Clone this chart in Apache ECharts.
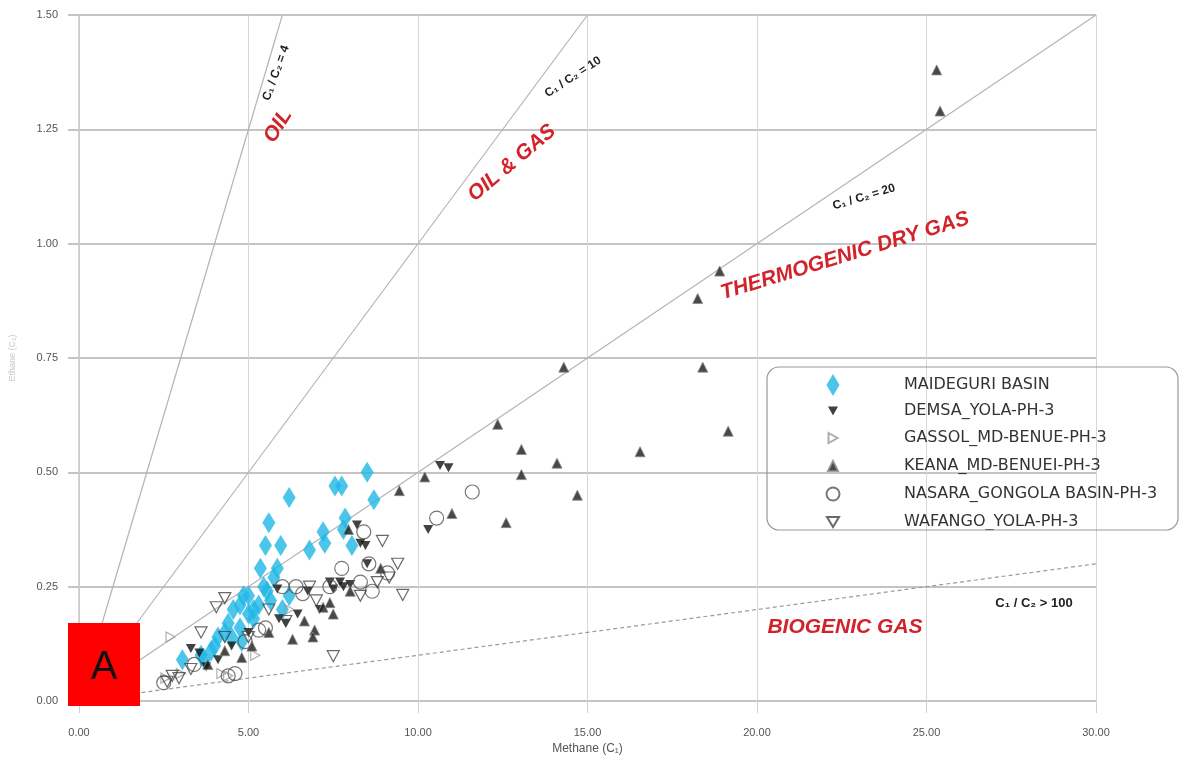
<!DOCTYPE html>
<html>
<head>
<meta charset="utf-8">
<title>Methane vs Ethane</title>
<script src="https://cdn.jsdelivr.net/npm/echarts@6/dist/echarts.min.js"></script>
<style>
	html, body { margin: 0; padding: 0; background: #fff; }
	#chart { width: 1181px; height: 760px; }
</style>
</head>
<body>
<div id="chart"></div>
<script type="text/javascript">
	// axis ticks
	var xTicks = [0, 5, 10, 15, 20, 25, 30];
	var yTicks = [0, 0.25, 0.5, 0.75, 1.0, 1.25, 1.5];

	// ratio reference lines (C1 / C2), end points
	var lineC4 = [[0, 0], [6, 1.5]];
	var lineC10 = [[0, 0], [15, 1.5]];
	var lineC20 = [[0, 0], [30, 1.5]];
	var lineC100 = [[0, 0], [30, 0.3]];

	// samples [methane, ethane]
	var maideguri = [
		[3.05,0.09],[3.6,0.1],[3.7,0.09],[3.9,0.11],[4.0,0.12],[4.1,0.14],[4.3,0.15],[4.4,0.17],
		[4.5,0.14],[4.55,0.2],[4.75,0.16],[4.75,0.21],[4.8,0.13],[4.85,0.23],[5.0,0.19],[5.0,0.23],
		[5.15,0.18],[5.15,0.2],[5.3,0.21],[5.35,0.29],[5.45,0.25],[5.5,0.34],[5.55,0.24],[5.6,0.39],
		[5.65,0.22],[5.75,0.27],[5.85,0.29],[5.95,0.34],[6.0,0.2],[6.2,0.23],[6.2,0.445],[6.8,0.33],
		[7.2,0.37],[7.25,0.345],[7.55,0.47],[7.75,0.47],[7.8,0.375],[7.85,0.40],[8.05,0.34],
		[8.5,0.50],[8.7,0.44]
	];
	var demsa = [
		[3.3,0.115],[3.55,0.105],[3.75,0.075],[4.1,0.09],[4.5,0.12],[5.0,0.15],[5.85,0.245],[5.9,0.18],
		[6.1,0.17],[6.45,0.19],[6.75,0.24],[7.1,0.2],[7.4,0.26],[7.5,0.245],[7.7,0.26],[7.8,0.25],
		[8.0,0.255],[8.2,0.385],[8.3,0.345],[8.45,0.34],[8.5,0.3],[10.3,0.375],[10.65,0.515],[10.9,0.51]
	];
	var gassol = [
		[2.7,0.14],[2.55,0.05],[3.0,0.06],[4.4,0.055],[4.2,0.06],[5.2,0.1],[6.2,0.2]
	];
	var keana = [
		[25.3,1.38],[25.4,1.29],[18.9,0.94],[18.25,0.88],[18.4,0.73],[19.15,0.59],[16.55,0.545],
		[14.3,0.73],[12.35,0.605],[13.05,0.55],[13.05,0.495],[14.1,0.52],[14.7,0.45],[12.6,0.39],
		[11.0,0.41],[10.2,0.49],[9.45,0.46],[7.95,0.375],[8.9,0.29],[8.0,0.24],[7.4,0.215],[7.2,0.205],
		[7.5,0.19],[6.65,0.175],[6.95,0.155],[6.9,0.14],[6.3,0.135],[5.1,0.12],[4.8,0.095],[4.3,0.11],
		[3.8,0.08],[5.6,0.15]
	];
	var nasara = [
		[11.6,0.457],[10.55,0.40],[8.4,0.37],[7.75,0.29],[8.55,0.30],[8.65,0.24],[8.3,0.26],[7.4,0.25],
		[6.6,0.235],[6.0,0.25],[5.5,0.16],[5.3,0.155],[4.9,0.13],[4.4,0.055],[4.6,0.06],[2.5,0.04],
		[3.4,0.08],[6.4,0.25],[9.1,0.28]
	];
	var wafango = [
		[8.95,0.35],[9.4,0.3],[9.55,0.232],[9.15,0.27],[8.3,0.23],[7.5,0.098],[6.1,0.175],[4.3,0.225],
		[4.05,0.205],[3.6,0.15],[2.75,0.055],[2.95,0.05],[2.6,0.042],[3.3,0.07],[5.6,0.2],[6.8,0.25],
		[7.0,0.22],[8.8,0.26],[4.3,0.14],[5.0,0.14]
	];

	var names = ['MAIDEGURI BASIN', 'DEMSA_YOLA-PH-3', 'GASSOL_MD-BENUE-PH-3',
		'KEANA_MD-BENUEI-PH-3', 'NASARA_GONGOLA BASIN-PH-3', 'WAFANGO_YOLA-PH-3'];

	// legend icons, drawn inside a fixed 22x22 box so each keeps its own size
	var box = 'path://M0,0M22,22';
	var legendIcons = [
		box + 'M11,0L17.5,11L11,22L4.5,11Z',
		box + 'M6,6.5L16,6.5L11,15.5Z',
		box + 'M6.5,6L15.5,11L6.5,16Z',
		box + 'M11,6L16,16L6,16Z',
		box + 'M4.5,11A6.5,6.5 0 1 1 17.5,11A6.5,6.5 0 1 1 4.5,11Z',
		box + 'M5,6L17,6L11,16Z'
	];

	var redFont = 'italic bold 21px "Liberation Sans", Arial, sans-serif';
	var blackFont = 'bold 12px "Liberation Sans", Arial, sans-serif';
	var deg = Math.PI / 180;

	function refLine(data, dashed) {
		return {
			type: 'line',
			data: data,
			symbol: 'none',
			silent: true,
			z: 1,
			lineStyle: { color: dashed ? '#9a9a9a' : '#b4b4b4', width: 1.2, type: dashed ? [4, 3] : 'solid' },
			tooltip: { show: false }
		};
	}

	function label(text, x, y, rot, font, color) {
		return {
			type: 'text',
			x: x,
			y: y,
			rotation: rot * deg,
			z: 50,
			style: { text: text, font: font, fill: color, align: 'center', verticalAlign: 'middle' }
		};
	}

	var chart = echarts.init(document.getElementById('chart'));
	var option = {
		animation: false,
		backgroundColor: '#fff',
		grid: { left: 79, right: 85, top: 15, bottom: 59 },
		legend: {
			orient: 'vertical',
			left: 821,
			top: 374,
			data: names.map(function (n, i) { return { name: n, icon: legendIcons[i] }; }),
			itemWidth: 22,
			itemHeight: 22,
			itemGap: 4,
			padding: 0,
			selectedMode: false,
			textStyle: {
				color: '#333', fontSize: 16,
				fontFamily: '"DejaVu Sans", sans-serif',
				padding: [0, 0, 0, 55]
			}
		},
		xAxis: {
			type: 'value',
			min: 0,
			max: 30,
			interval: 5,
			name: 'Methane (C\u2081)',
			nameLocation: 'middle',
			nameGap: 40,
			nameTextStyle: { color: '#555', fontSize: 12, fontFamily: '"Liberation Sans", Arial, sans-serif' },
			axisLine: { show: false },
			axisTick: { show: true, length: 12, lineStyle: { color: '#d0d0d0' } },
			axisLabel: {
				color: '#555', fontSize: 11, margin: 26,
				fontFamily: '"Liberation Sans", Arial, sans-serif',
				formatter: function (v) { return v.toFixed(2); }
			},
			splitLine: { show: true, lineStyle: { color: '#d6d6d6', width: 1 } }
		},
		yAxis: {
			type: 'value',
			min: 0,
			max: 1.5,
			interval: 0.25,
			name: 'Ethane (C\u2082)',
			nameLocation: 'middle',
			nameGap: 62,
			nameTextStyle: { color: '#c8c8c8', fontSize: 9, fontFamily: '"Liberation Sans", Arial, sans-serif' },
			axisLine: { show: true, lineStyle: { color: '#c8c8c8', width: 1.5 } },
			axisTick: { show: true, length: 11, lineStyle: { color: '#c4c4c4', width: 2 } },
			axisLabel: {
				color: '#555', fontSize: 11, margin: 21,
				fontFamily: '"Liberation Sans", Arial, sans-serif',
				formatter: function (v) { return v.toFixed(2); }
			},
			splitLine: { show: true, lineStyle: { color: '#c4c4c4', width: 2 } }
		},
		series: [
			refLine(lineC4, false),
			refLine(lineC10, false),
			refLine(lineC20, false),
			refLine(lineC100, true),
			{
				name: names[0], type: 'scatter', data: maideguri, z: 3,
				symbol: 'path://M5,0L10,8L5,16L0,8Z', symbolSize: [13, 21],
				itemStyle: { color: '#1fb6e6' }
			},
			{
				name: names[1], type: 'scatter', data: demsa, z: 4,
				symbol: 'path://M0,0L10,0L5,9Z', symbolSize: [10, 9],
				itemStyle: { color: '#111' }
			},
			{
				name: names[2], type: 'scatter', data: gassol, z: 4,
				symbol: 'path://M0,0L9,5L0,10Z', symbolSize: [9, 10],
				itemStyle: { color: 'rgba(255,255,255,0)', borderColor: '#999', borderWidth: 1.2 }
			},
			{
				name: names[3], type: 'scatter', data: keana, z: 4,
				symbol: 'path://M5,0L10,10L0,10Z', symbolSize: [10, 10],
				itemStyle: { color: '#1a1a1a', borderColor: '#888', borderWidth: 1 }
			},
			{
				name: names[4], type: 'scatter', data: nasara, z: 4,
				symbol: 'circle', symbolSize: 14,
				itemStyle: { color: 'rgba(255,255,255,0)', borderColor: '#555', borderWidth: 1.2 }
			},
			{
				name: names[5], type: 'scatter', data: wafango, z: 4,
				symbol: 'path://M0,0L10,0L5,9Z', symbolSize: [12, 11],
				itemStyle: { color: 'rgba(255,255,255,0)', borderColor: '#444', borderWidth: 1.2 }
			}
		],
		graphic: [
			{
				type: 'rect', z: 40,
				shape: { x: 767, y: 367, width: 411, height: 163, r: 12 },
				style: { fill: 'rgba(255,255,255,0)', stroke: '#9a9a9a', lineWidth: 1.2 }
			},
			label('C\u2081 / C\u2082 = 4', 276, 73, 70, blackFont, '#222'),
			label('OIL', 278, 126, 58, redFont, '#d2232a'),
			label('C\u2081 / C\u2082 = 10', 573, 77, 33, blackFont, '#222'),
			label('OIL & GAS', 512, 163, 40, redFont, '#d2232a'),
			label('C\u2081 / C\u2082 = 20', 864, 197, 17, blackFont, '#222'),
			label('THERMOGENIC DRY GAS', 845, 256, 17, redFont, '#d2232a'),
			label('C\u2081 / C\u2082 > 100', 1034, 603, 0, 'bold 13px "Liberation Sans", Arial, sans-serif', '#222'),
			label('BIOGENIC GAS', 845, 627, 0, redFont, '#d2232a'),
			{
				type: 'rect', z: 60,
				shape: { x: 68, y: 623, width: 72, height: 83 },
				style: { fill: '#ff0000' }
			},
			{
				type: 'text', z: 61, x: 104, y: 668,
				style: { text: 'A', font: '40px "Liberation Sans", Arial, sans-serif', fill: '#111', align: 'center', verticalAlign: 'middle' }
			}
		]
	};
	chart.setOption(option);
	window.onresize = function () {
		chart.resize();
	};
</script>
</body>
</html>
